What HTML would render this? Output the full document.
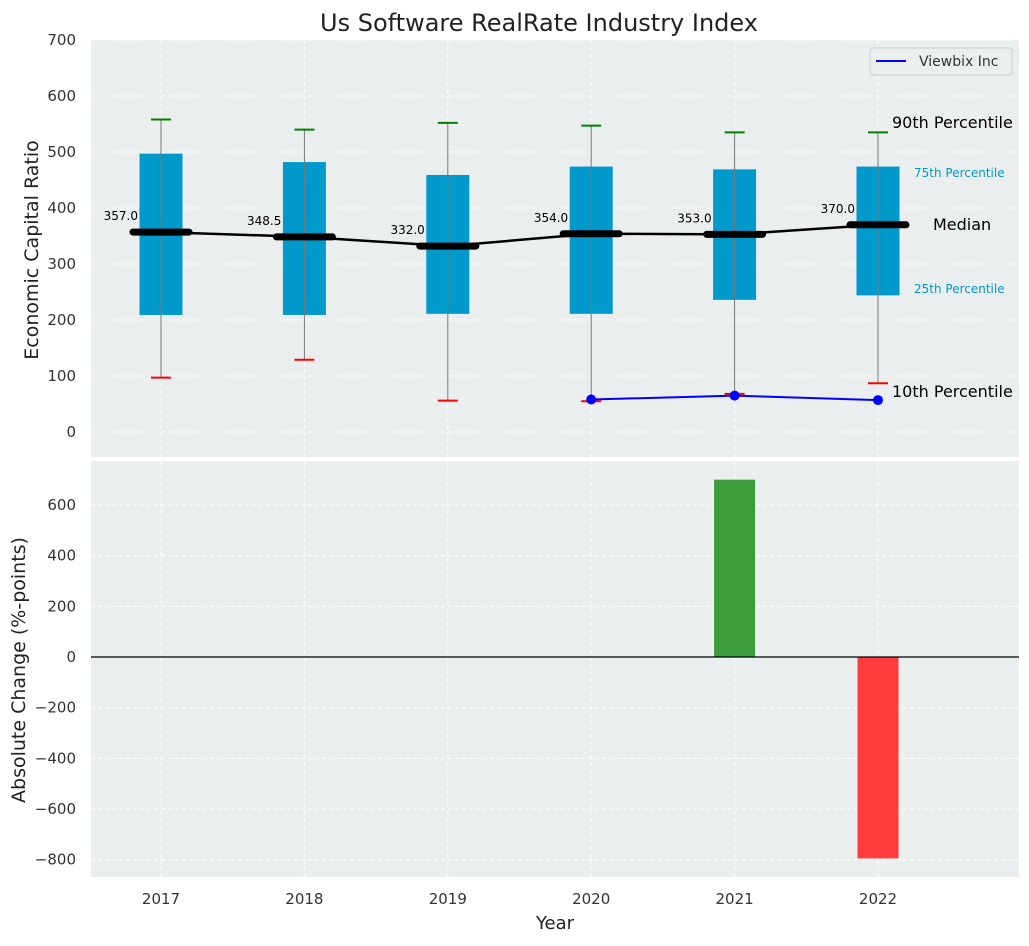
<!DOCTYPE html>
<html><head><meta charset="utf-8"><style>
body{margin:0;background:#fff;font-family:"DejaVu Sans","Liberation Sans",sans-serif}
svg text{font-family:"DejaVu Sans","Liberation Sans",sans-serif}
</style></head><body>
<svg id="c" width="1029" height="942" xmlns="http://www.w3.org/2000/svg">
<text x="539" y="31" text-anchor="middle" font-size="24" fill="#222">Us Software RealRate Industry Index</text>
<rect x="91" y="40" width="928" height="417" fill="#ebeeee"/>
<rect x="91" y="461" width="928" height="416" fill="#ebeeee"/>
<g id="g"></g>
<text x="555" y="929" text-anchor="middle" font-size="18" fill="#222">Year</text>
<text transform="translate(38,250) rotate(-90)" text-anchor="middle" font-size="19" fill="#222">Economic Capital Ratio</text>
<text transform="translate(25,670) rotate(-90)" text-anchor="middle" font-size="19" fill="#222">Absolute Change (%-points)</text>
<g>
<rect x="870" y="48" width="142" height="27" rx="3" fill="#ebeeee" stroke="#ccc"/>
<line x1="876" y1="61" x2="906" y2="61" stroke="#0000ff" stroke-width="2"/>
<text x="919" y="66" font-size="14" fill="#333">Viewbix Inc</text>
</g>
</svg>
<script>
const years=[2017,2018,2019,2020,2021,2022];
const p10=[97,129,56,55,68,87];
const p25=[209,209,211,211,236,244];
const med=[357,348.5,332,354,353,370];
const p75=[497,482,459,474,469,474];
const p90=[558,540,552,547,535,535];
const vbYears=[2020,2021,2022];
const vbVals=[58,65,57];
const chg=[0,0,0,0,700,-795];
const topTicks=[0,100,200,300,400,500,600,700];
const botTicks=[-800,-600,-400,-200,0,200,400,600];
const NS='http://www.w3.org/2000/svg';
const g=document.getElementById('g');
const X=y=>161+(y-2017)*143.4;
const Y1=v=>432-v*0.56;
const Y2=v=>657-v*0.25333;
function mk(t,a,p){const e=document.createElementNS(NS,t);for(const k in a)e.setAttribute(k,a[k]);(p||g).appendChild(e);return e;}
years.forEach(y=>{
const l1=mk('line',{x1:X(y),x2:X(y),y1:40,y2:457,stroke:'#fff','stroke-dasharray':'4,3'});

const l2=mk('line',{x1:X(y),x2:X(y),y1:461,y2:877,stroke:'#fff','stroke-dasharray':'4,3'});

const t=mk('text',{x:X(y),y:904,'text-anchor':'middle','font-size':15,fill:'#333'});t.textContent=y;

});
topTicks.forEach(v=>{
const l=mk('line',{x1:91,x2:1019,y1:Y1(v),y2:Y1(v),stroke:'#fff','stroke-dasharray':'4,3'});

const t=mk('text',{x:76,y:Y1(v)+5,'text-anchor':'end','font-size':15,fill:'#333'});t.textContent=v;

});
botTicks.forEach(v=>{
const l=mk('line',{x1:91,x2:1019,y1:Y2(v),y2:Y2(v),stroke:'#fff','stroke-dasharray':'4,3'});

const t=mk('text',{x:76,y:Y2(v)+5,'text-anchor':'end','font-size':15,fill:'#333'});t.textContent=String(v).replace('-','\u2212');

});
years.forEach((y,i)=>{
const b=mk('rect',{x:X(y)-21.5,y:Y1(p75[i]),width:43,height:Y1(p25[i])-Y1(p75[i]),fill:'#0099cc'});

const w=mk('line',{x1:X(y),x2:X(y),y1:Y1(p90[i]),y2:Y1(p10[i]),stroke:'#777','stroke-width':1});

const c1=mk('line',{x1:X(y)-10,x2:X(y)+10,y1:Y1(p90[i]),y2:Y1(p90[i]),stroke:'green','stroke-width':2});

const c2=mk('line',{x1:X(y)-10,x2:X(y)+10,y1:Y1(p10[i]),y2:Y1(p10[i]),stroke:'red','stroke-width':2});

});
const ml=mk('polyline',{points:years.map((y,i)=>X(y)+','+Y1(med[i])).join(' '),fill:'none',stroke:'#000','stroke-width':2.5});

years.forEach((y,i)=>{
const m=mk('line',{x1:X(y)-28,x2:X(y)+28,y1:Y1(med[i]),y2:Y1(med[i]),stroke:'#000','stroke-width':7,'stroke-linecap':'round'});

const t=mk('text',{x:X(y)-23,y:Y1(med[i])-12,'text-anchor':'end','font-size':12,fill:'#000'});t.textContent=med[i].toFixed(1);

});
const vl=mk('polyline',{points:vbYears.map((y,i)=>X(y)+','+Y1(vbVals[i])).join(' '),fill:'none',stroke:'#0000ff','stroke-width':2});

vbYears.forEach((y,i)=>{const c=mk('circle',{cx:X(y),cy:Y1(vbVals[i]),r:5,fill:'#0000ff'});
});
const L=years.length-1,ax=X(years[L]);
[['90th Percentile',p90[L]+17,16,'#000',14],['75th Percentile',p75[L]-10,12,'#0099cc',36],['Median',med[L],16,'#000',55],['25th Percentile',p25[L]+13,12,'#0099cc',36],['10th Percentile',p10[L]-16,16,'#000',14]].forEach(a=>{
const t=mk('text',{x:ax+a[4],y:Y1(a[1])+5,'font-size':a[2],fill:a[3]});t.textContent=a[0];

});
years.forEach((y,i)=>{if(!chg[i])return;
const r=mk('rect',{x:X(y)-20.5,y:Math.min(Y2(0),Y2(chg[i])),width:41,height:Math.abs(Y2(chg[i])-Y2(0)),fill:chg[i]>0?'#3c9c3c':'#ff3c3c'});
});
const z=mk('line',{x1:91,x2:1019,y1:Y2(0),y2:Y2(0),stroke:'#000','stroke-width':1.2});

</script>
</body></html>
